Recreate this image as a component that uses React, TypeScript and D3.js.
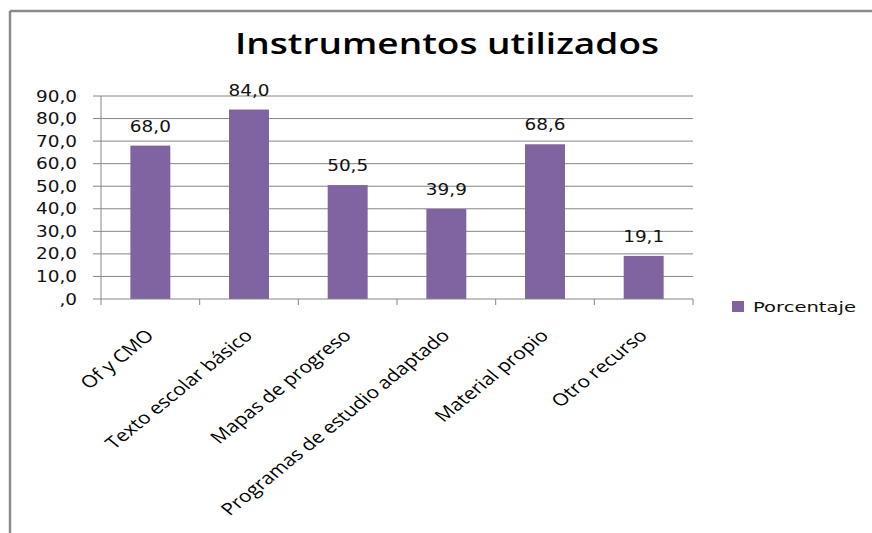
import React from "react";
import * as d3 from "d3";

const categories = [
  "Of y CMO",
  "Texto escolar básico",
  "Mapas de progreso",
  "Programas de estudio adaptado",
  "Material propio",
  "Otro recurso",
];
const values = [68.0, 84.0, 50.5, 39.9, 68.6, 19.1];
const yTicks = [0, 10, 20, 30, 40, 50, 60, 70, 80, 90];
const seriesName = "Porcentaje";
const title = "Instrumentos utilizados";

const fmt = (v: number) => {
  const s = v.toFixed(1).replace(".", ",");
  return s.startsWith("0,") ? s.slice(1) : s;
};

export default function App() {
  const W = 872, H = 533;
  const left = 101, right = 693, top = 96, bottom = 299;
  const x = d3.scaleBand<string>().domain(categories).range([left, right]).paddingInner(0.595).paddingOuter(0.2975);
  const y = d3.scaleLinear().domain([0, 90]).range([bottom, top]);
  const step = x.step();
  const grid = "#868686";
  const barColor = "#8064A2";
  const numFont = "'DejaVu Sans', Verdana, sans-serif";
  const catFont = "'Open Sans', sans-serif";
  const sx = 1.19;
  return (
    <svg width={W} height={H} style={{ position: "fixed", left: 0, top: 0, background: "#fff" }}>
      <rect x={0} y={0} width={W} height={H} fill="#fff" />
      {/* border */}
      <line x1={10} y1={11} x2={W} y2={11} stroke="#8a8a8a" strokeWidth={2.5} />
      <line x1={10} y1={11} x2={10} y2={H} stroke="#8a8a8a" strokeWidth={2.5} />
      {/* title */}
      <text x={447} y={54} textAnchor="middle" fontFamily={catFont} fontWeight={600} fontSize={29}
        textLength={424} lengthAdjust="spacingAndGlyphs" fill="#000">{title}</text>
      {/* gridlines */}
      {yTicks.filter(t => t > 0).map(t => (
        <line key={t} x1={left} x2={right} y1={y(t)} y2={y(t)} stroke={grid} strokeWidth={1} />
      ))}
      {/* y axis */}
      <line x1={left} x2={left} y1={top} y2={bottom} stroke={grid} strokeWidth={1} />
      {yTicks.map(t => (
        <g key={t}>
          <line x1={left - 8} x2={left} y1={y(t)} y2={y(t)} stroke={grid} strokeWidth={1} />
          <text transform={`translate(77,${y(t)}) scale(${sx},1)`} textAnchor="end" dy="0.36em"
            fontFamily={numFont} fontSize={15.5} fill="#111">{fmt(t)}</text>
        </g>
      ))}
      {/* bars */}
      {categories.map((c, i) => (
        <rect key={c} x={x(c)} y={y(values[i])} width={x.bandwidth()} height={bottom - y(values[i])} fill={barColor} />
      ))}
      {/* x axis */}
      <line x1={left} x2={right} y1={bottom} y2={bottom} stroke={grid} strokeWidth={1} />
      {d3.range(categories.length + 1).map(i => (
        <line key={i} x1={left + i * step} x2={left + i * step} y1={bottom} y2={bottom + 6} stroke={grid} strokeWidth={1} />
      ))}
      {/* data labels */}
      {categories.map((c, i) => (
        <text key={c} transform={`translate(${(x(c) as number) + x.bandwidth() / 2},${y(values[i]) - 14}) scale(${sx},1)`}
          textAnchor="middle" fontFamily={numFont} fontSize={15.5} fill="#111">{fmt(values[i])}</text>
      ))}
      {/* category labels */}
      {categories.map(c => (
        <text key={c}
          transform={`translate(${(x(c) as number) + x.bandwidth() / 2 - 6},328) scale(1.23,1) rotate(-45)`}
          textAnchor="end" dy="0.72em" fontFamily={catFont} fontSize={17} fill="#000">{c}</text>
      ))}
      {/* legend */}
      <rect x={732} y={301} width={12} height={11} fill={barColor} />
      <text x={753} y={312} fontFamily={numFont} fontSize={14} textLength={103} lengthAdjust="spacingAndGlyphs" fill="#111">{seriesName}</text>
    </svg>
  );
}
